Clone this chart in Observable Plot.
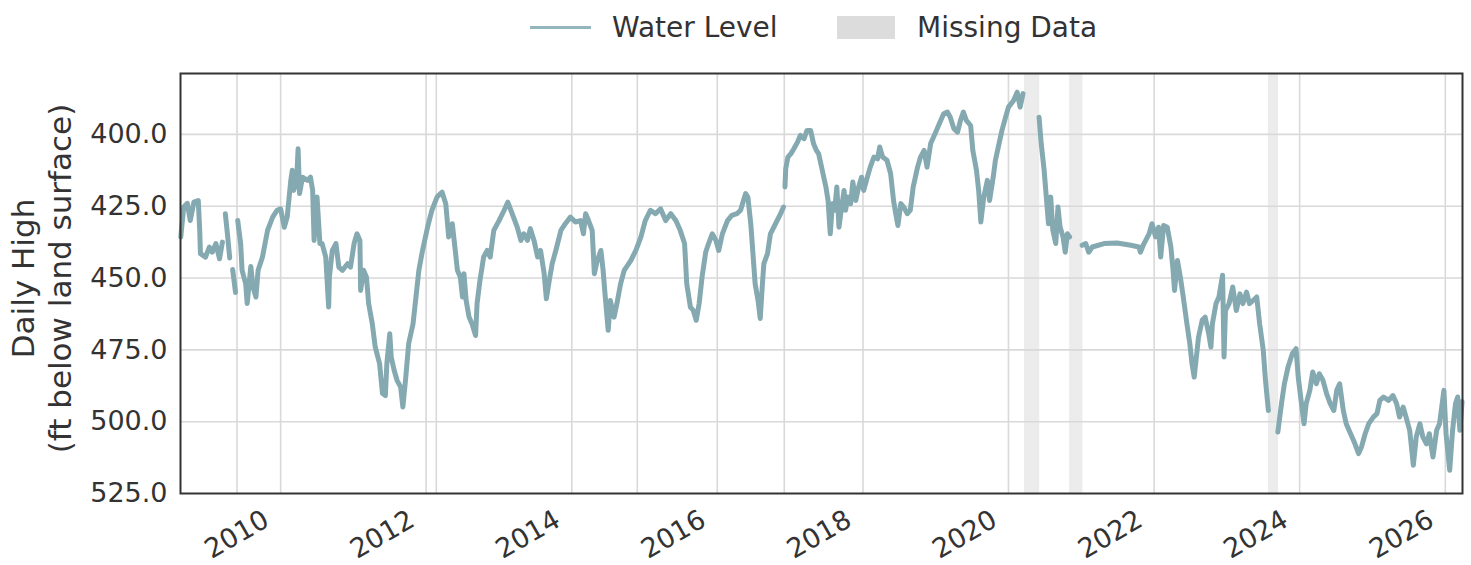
<!DOCTYPE html>
<html>
<head>
<meta charset="utf-8">
<script src="https://cdn.jsdelivr.net/npm/d3@7"></script>
<script src="https://cdn.jsdelivr.net/npm/@observablehq/plot@0.6"></script>
<style>
  html, body { margin: 0; padding: 0; background: #fff; }
  body { font-family: "DejaVu Sans", sans-serif; color: #333; width: 1471px; }
  #legend { position: relative; width: 1471px; height: 55px; }
  #legend .item { position: absolute; }
  #legend .lab { position: absolute; font-size: 28px; line-height: 28px; white-space: nowrap; color: #333; }
</style>
</head>
<body>
<div id="legend"></div>
<div id="chart"></div>
<script>
// ---- data ----
const seriesName = "Water Level";
const missingName = "Missing Data";
const yTitle = "Daily High\n(ft below land surface)";

// decimal years of the daily-high trace (null level = break in record)
const years = [
  2008.63,2008.67,2008.72,2008.76,2008.81,2008.87,2008.89,2008.90,2008.97,2009.02,2009.06,2009.11,2009.16,2009.20,
  2009.22,
  2009.24,2009.27,2009.30,
  2009.32,
  2009.34,2009.38,
  2009.395,
  2009.41,2009.45,2009.47,2009.52,2009.54,2009.59,2009.62,2009.66,2009.69,2009.75,2009.82,2009.89,2009.95,
  2010.00,2010.05,2010.09,2010.14,2010.16,2010.18,2010.22,2010.24,2010.26,2010.30,2010.37,2010.41,2010.44,2010.46,
  2010.50,2010.54,2010.57,2010.62,2010.66,2010.67,2010.71,2010.76,2010.80,2010.85,2010.92,2010.96,
  2011.01,2011.05,2011.09,2011.10,2011.14,2011.18,2011.21,2011.26,2011.30,2011.36,2011.40,2011.44,2011.46,2011.50,
  2011.52,2011.56,2011.60,2011.65,2011.68,2011.72,2011.76,2011.82,2011.86,2011.90,2011.95,
  2012.02,2012.08,2012.15,2012.22,2012.27,2012.31,2012.36,2012.39,2012.43,2012.47,2012.50,2012.52,2012.55,2012.59,
  2012.63,2012.68,2012.70,2012.74,2012.79,2012.84,2012.88,2012.93,
  2013.00,2013.07,2013.12,2013.18,2013.25,2013.30,2013.34,2013.39,2013.43,2013.48,2013.53,2013.57,2013.62,2013.65,
  2013.69,2013.73,2013.78,2013.85,2013.91,2013.98,
  2014.05,2014.12,2014.16,2014.19,2014.23,2014.28,2014.31,2014.35,2014.40,2014.43,2014.46,2014.50,2014.53,2014.58,
  2014.62,2014.67,2014.72,2014.81,2014.88,2014.95,
  2015.01,2015.08,2015.15,2015.22,2015.29,2015.36,2015.43,2015.49,2015.55,2015.58,2015.63,2015.67,2015.71,2015.75,
  2015.79,2015.84,2015.88,2015.93,2015.98,
  2016.02,2016.07,2016.14,2016.20,2016.27,2016.32,2016.36,2016.39,2016.42,2016.46,2016.49,2016.52,2016.56,2016.59,
  2016.62,2016.64,2016.69,2016.73,2016.80,2016.87,2016.91,
  2016.92,
  2016.93,2016.94,2016.97,2017.01,2017.05,2017.10,2017.14,2017.19,2017.23,2017.28,2017.32,2017.36,2017.39,2017.44,
  2017.49,2017.52,2017.55,2017.58,2017.61,2017.64,2017.67,2017.70,2017.74,2017.76,2017.79,2017.83,2017.86,2017.90,
  2017.94,2017.98,
  2018.01,2018.06,2018.10,2018.15,2018.20,2018.23,2018.27,2018.33,2018.38,2018.42,2018.45,2018.48,2018.52,2018.56,
  2018.61,2018.65,2018.69,2018.75,2018.79,2018.84,2018.88,2018.93,2018.99,
  2019.07,2019.11,2019.16,2019.20,2019.25,2019.30,2019.34,2019.38,2019.42,2019.48,2019.51,2019.56,2019.59,2019.62,
  2019.66,2019.71,2019.74,2019.79,2019.82,2019.87,2019.91,2019.96,
  2020.00,2020.07,2020.12,2020.16,2020.20,
  2020.30,
  2020.42,2020.45,2020.49,2020.52,2020.55,2020.58,2020.61,2020.65,2020.68,2020.71,2020.75,2020.78,2020.81,2020.84,
  2020.90,
  2021.01,2021.06,2021.10,2021.15,2021.31,2021.49,2021.68,2021.79,2021.81,2021.86,2021.93,2021.97,
  2022.02,2022.06,2022.09,2022.13,2022.18,2022.23,2022.26,2022.28,2022.32,2022.36,2022.40,2022.45,2022.49,2022.52,
  2022.55,2022.61,2022.66,2022.70,2022.75,2022.78,2022.80,2022.85,2022.89,2022.94,2022.96,2022.98,
  2023.03,2023.08,2023.13,2023.18,2023.22,2023.27,2023.31,2023.36,2023.41,2023.45,2023.50,2023.53,2023.57,
  2023.63,
  2023.70,2023.75,2023.79,2023.84,2023.90,2023.95,2023.98,
  2024.02,2024.06,2024.09,2024.14,2024.18,2024.23,2024.27,2024.32,2024.37,2024.42,2024.47,2024.51,2024.55,2024.60,
  2024.64,2024.70,2024.76,2024.81,2024.85,2024.90,2024.95,
  2025.01,2025.06,2025.10,2025.15,2025.22,2025.28,2025.33,2025.37,2025.42,2025.46,2025.51,2025.56,2025.60,2025.65,
  2025.69,2025.74,2025.78,2025.83,2025.88,2025.92,2025.98,
  2026.01,2026.06,2026.10,2026.14,2026.17,2026.20,2026.23
];
// ft below land surface
const levels = [
  435.7,425.3,424.0,430.0,423.6,423.0,433.4,441.5,442.7,439.2,441.0,438.0,443.3,437.5,
  null,
  427.6,435.0,443.0,
  null,
  447.0,455.0,
  null,
  430.0,438.0,447.3,452.0,458.9,446.0,453.1,456.6,447.3,442.7,433.4,428.8,426.4,
  425.9,432.3,428.8,416.0,412.5,419.5,416.0,405.0,420.6,414.9,416.0,414.9,419.5,436.9,
  421.8,438.0,438.0,442.7,460.1,449.7,440.4,438.0,446.2,447.3,445.0,446.2,
  438.0,434.6,436.9,454.3,447.3,449.7,458.9,465.9,474.0,479.8,490.2,490.9,479.8,469.4,
  477.5,482.1,485.6,488.0,494.9,484.5,472.8,465.9,456.6,447.3,440.4,
  432.3,426.4,421.8,420.1,424.1,435.7,431.1,438.0,447.3,449.7,456.6,448.5,457.8,463.6,
  465.9,470.0,458.9,450.8,442.7,440.4,442.7,433.4,
  430.0,426.4,423.6,427.6,432.3,436.9,434.6,436.9,432.8,436.9,442.7,440.4,448.5,457.2,
  450.8,445.0,440.4,433.4,431.1,428.8,
  430.5,430.0,434.6,427.6,430.0,433.4,448.5,443.9,440.4,447.3,456.6,468.2,457.8,463.6,
  458.9,452.0,447.3,443.9,440.4,435.7,
  430.0,426.4,427.6,425.9,430.0,427.6,430.0,433.4,438.0,452.0,460.1,461.3,464.7,458.9,
  449.7,441.0,438.0,434.6,436.9,
  440.4,434.6,430.0,428.2,427.6,426.4,423.0,420.6,421.8,431.1,441.5,452.0,457.8,464.1,
  452.0,445.0,441.5,434.6,431.1,427.6,425.3,
  null,
  418.3,412.0,407.9,406.7,405.0,402.7,400.3,401.5,398.6,398.6,403.2,405.6,406.7,412.5,
  418.3,423.0,434.6,424.1,426.4,418.3,432.3,426.4,419.5,426.4,421.8,424.1,416.6,423.0,
  418.3,414.9,
  419.5,414.9,411.4,407.9,408.5,404.4,407.9,409.0,413.7,423.0,427.6,431.7,424.1,425.3,
  427.6,426.4,418.3,411.4,407.9,405.6,411.4,403.2,399.8,
  395.1,392.8,392.2,394.0,398.0,399.2,395.1,392.2,395.1,396.9,405.6,412.5,419.5,430.5,
  421.8,416.0,423.0,414.9,409.0,403.2,398.6,394.0,
  390.5,388.2,385.3,390.5,385.8,
  null,
  394.0,403.2,412.5,421.8,431.1,421.8,433.4,438.0,425.3,432.3,435.7,441.0,434.6,435.7,
  null,
  438.6,438.0,441.0,439.2,438.0,437.8,438.6,439.2,441.0,438.0,434.6,431.1,
  435.7,432.3,442.7,431.7,432.3,439.2,447.3,454.3,443.9,449.7,456.6,465.9,472.8,479.8,
  484.5,470.5,464.7,463.6,469.4,474.0,465.9,458.9,456.6,449.0,477.5,461.3,
  458.9,453.1,461.3,455.5,458.9,454.9,458.9,457.8,456.6,465.9,475.2,485.6,496.1,
  null,
  503.6,493.7,486.8,481.0,476.3,474.6,484.5,
  492.6,500.7,493.7,489.1,482.7,486.8,483.3,485.6,490.2,493.7,496.1,489.1,486.8,496.1,
  500.7,504.2,507.7,511.1,508.8,504.2,500.7,
  498.4,497.2,492.6,491.4,492.6,490.9,493.7,498.4,494.9,498.4,503.0,515.2,505.3,500.7,
  505.3,507.7,504.2,512.3,503.0,500.7,489.1,
  504.2,516.9,503.0,493.7,491.4,503.0,493.0
];

// shaded missing-data periods (decimal years)
const missingStart = [2020.22, 2020.84, 2023.57];
const missingEnd   = [2020.43, 2021.02, 2023.71];

// axes
const xTickYears = [2010, 2012, 2014, 2016, 2018, 2020, 2022, 2024, 2026];
const extraGridYears = [2009.40, 2012.14, 2014.90, 2016.92];
const yTicks = [400, 425, 450, 475, 500, 525];
const yGrid = [400, 425, 450, 475, 500];
const xDomainYears = [2008.626, 2026.236];
const yDomain = [378.8, 525];

// ---- colours ----
const lineColor = "#85a9b1";
const bandColor = "#ececec";
const gridColor = "#d9d9d9";
const inkColor = "#333333";

// ---- helpers ----
const toDate = y => {
  const yr = Math.floor(y);
  return new Date(Date.UTC(yr, 0, 1) + (y - yr) * 365.25 * 864e5);
};

const table = years.map((y, i) => ({date: toDate(y), level: levels[i]}));
const bands = missingStart.map((s, i) => ({start: toDate(s), end: toDate(missingEnd[i])}));
const gridDates = xTickYears.concat(extraGridYears).map(toDate);

// ---- legend (HTML above the SVG) ----
const legend = document.getElementById("legend");
legend.innerHTML = `
  <div class="item" style="left:530px;top:25.5px;width:61px;height:3px;background:#93b6bd"></div>
  <div class="lab" style="left:612px;top:14px">${seriesName}</div>
  <div class="item" style="left:837px;top:16px;width:58px;height:23px;background:#dcdcdc"></div>
  <div class="lab" style="left:917px;top:14px">${missingName}</div>
`;

// ---- chart ----
const chart = Plot.plot({
  width: 1471,
  height: 510,
  marginLeft: 180,
  marginRight: 9,
  marginTop: 18,
  marginBottom: 72,
  style: {fontFamily: '"DejaVu Sans", sans-serif', fontSize: "27px", color: inkColor, background: "#fff", overflow: "visible"},
  x: {type: "utc", domain: xDomainYears.map(toDate), axis: null},
  y: {domain: yDomain, reverse: true, axis: null},
  marks: [
    Plot.rect(bands, {x1: "start", x2: "end", fill: bandColor}),
    Plot.ruleY(yGrid, {stroke: gridColor, strokeWidth: 1.6}),
    Plot.ruleX(gridDates, {stroke: gridColor, strokeWidth: 1.6}),
    Plot.line(table, {x: "date", y: "level", stroke: lineColor, strokeWidth: 5, strokeLinejoin: "round", strokeLinecap: "round"}),
    Plot.frame({stroke: inkColor, strokeWidth: 2}),
    Plot.axisY(yTicks, {tickSize: 0, tickPadding: 13, tickFormat: d3.format(".1f"), fontSize: 27, label: null, fill: inkColor}),
    Plot.text(xTickYears, {
      x: d => toDate(d), frameAnchor: "bottom", text: d => String(d),
      rotate: -30, textAnchor: "end", lineAnchor: "middle",
      dx: -14, dy: 24, fontSize: 27, fill: inkColor
    }),
    Plot.text([yTitle], {
      frameAnchor: "left", text: d => d, rotate: -90, lineAnchor: "middle", textAnchor: "middle",
      lineHeight: 1.19, dx: -140, dy: -5, fontSize: 31, fill: inkColor
    })
  ]
});
document.getElementById("chart").appendChild(chart);
</script>
</body>
</html>
